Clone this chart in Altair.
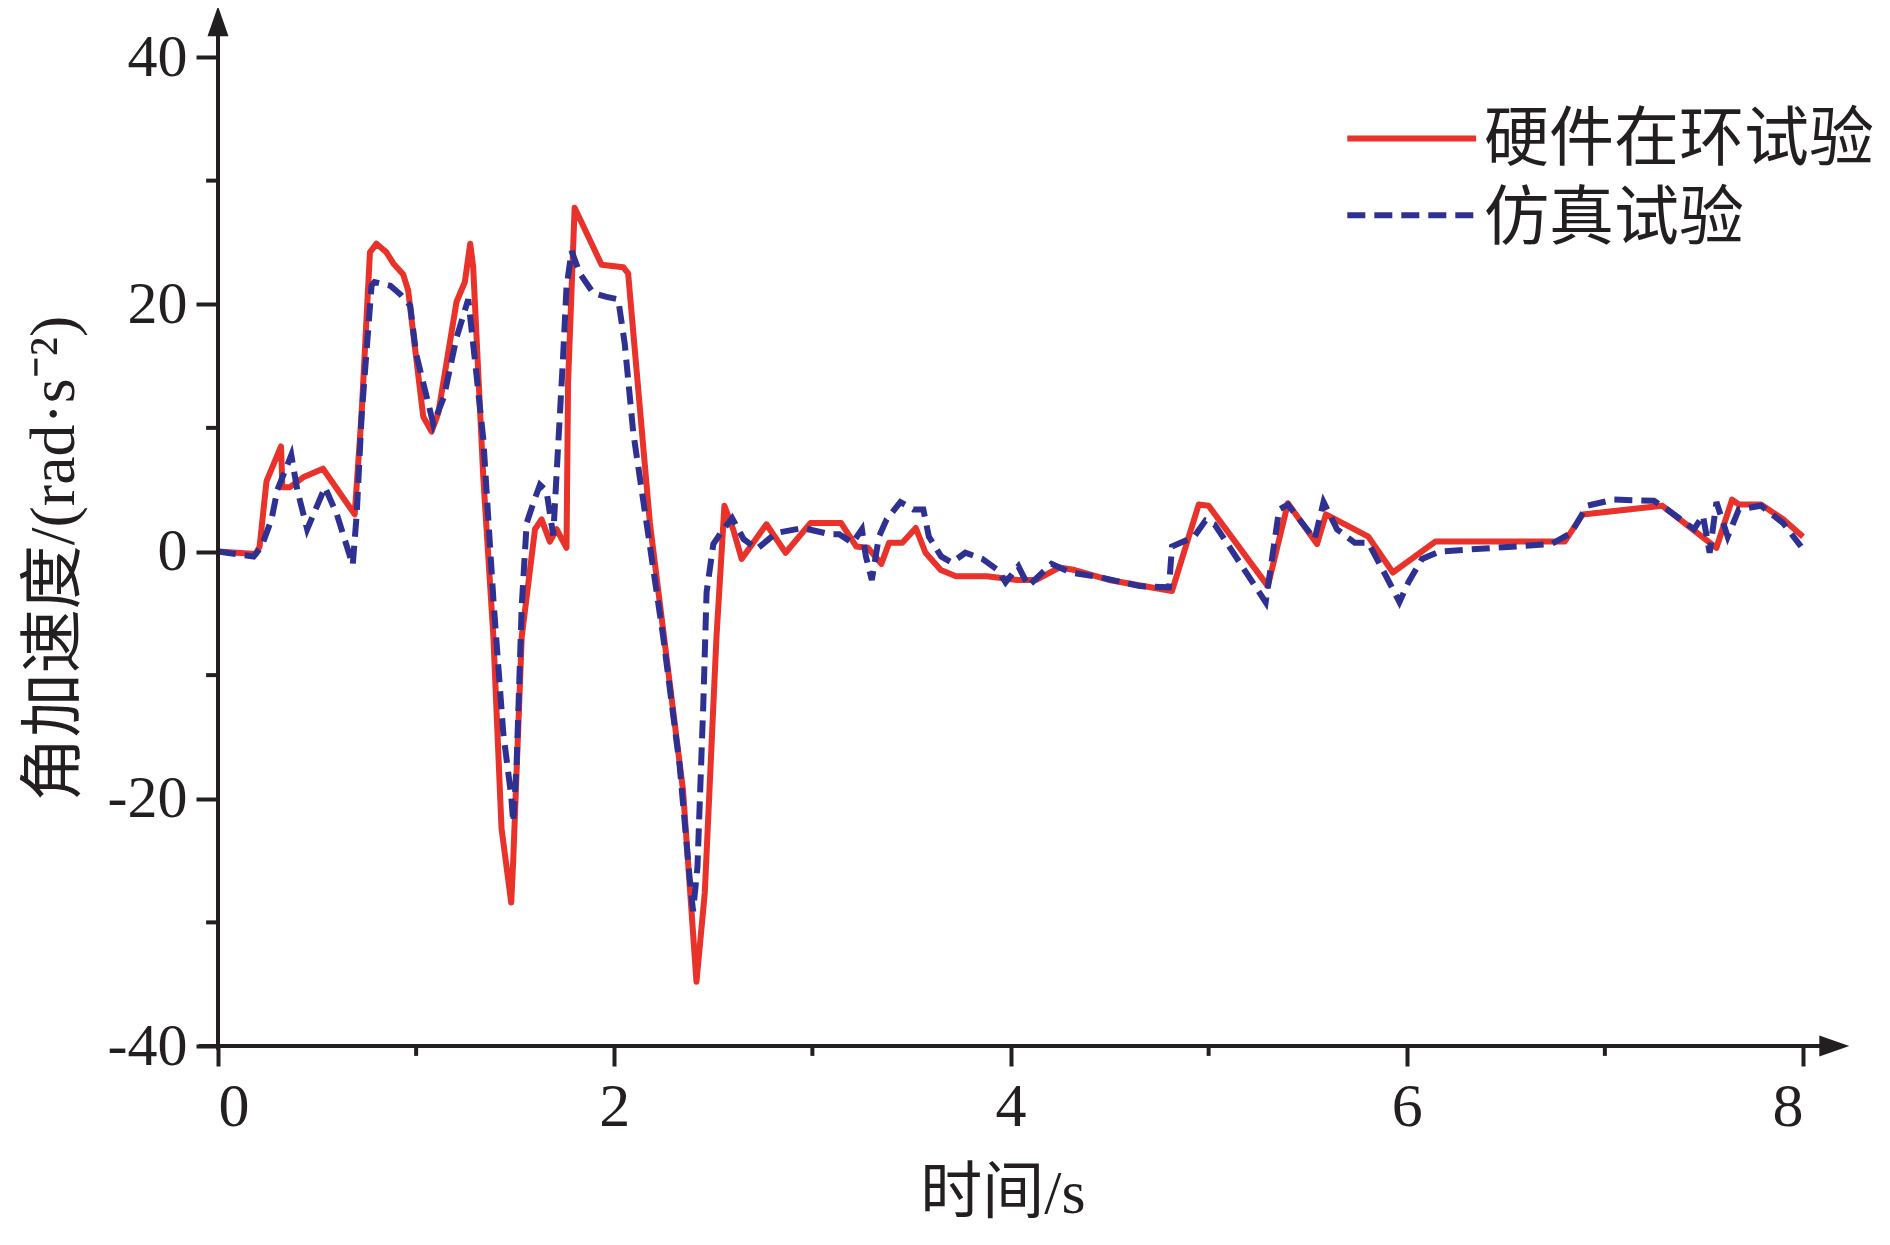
import altair as alt
import pandas as pd

# ---------------- data ----------------
series_names = ["硬件在环试验", "仿真试验"]
series_colors = ["#E8322A", "#2E3192"]

red_t = [0.00, 0.19, 0.21, 0.245, 0.318, 0.325, 0.363, 0.43, 0.53, 0.69,
         0.725, 0.767, 0.80, 0.85, 0.885, 0.935, 0.96, 0.985, 1.036, 1.078,
         1.112, 1.204, 1.246, 1.273, 1.288, 1.339, 1.39, 1.431, 1.48, 1.49,
         1.533, 1.60, 1.633, 1.675, 1.709, 1.759, 1.767, 1.80, 1.936, 2.045,
         2.07, 2.18, 2.347, 2.415, 2.457, 2.516, 2.556, 2.60, 2.643, 2.768,
         2.865, 2.99, 3.145, 3.222, 3.28, 3.348, 3.387, 3.454, 3.522, 3.571,
         3.648, 3.725, 3.88, 4.034, 4.13, 4.246, 4.324, 4.497, 4.815, 4.95,
         5.0, 5.299, 5.40, 5.547, 5.592, 5.806, 5.93, 6.144, 6.797, 6.888,
         7.29, 7.563, 7.642, 7.676, 7.788, 7.90, 8.00]
red_v = [0.0, -0.2, 0.4, 5.7, 8.5, 5.2, 5.2, 6.0, 6.7, 3.0,
         11.2, 24.2, 24.9, 24.2, 23.3, 22.4, 21.1, 17.7, 10.9, 9.7,
         11.2, 20.2, 21.8, 24.9, 23.0, 6.0, -6.9, -22.4, -28.4, -25.0,
         -6.9, 1.8, 2.6, 0.8, 1.8, 0.3, 13.7, 27.8, 23.2, 23.0,
         22.5, 2.3, -19.3, -34.8, -27.6, -6.9, 3.7, 1.8, -0.6, 2.2,
         -0.1, 2.3, 2.3, 0.4, 0.3, -1.0, 0.7, 0.7, 1.9, -0.1,
         -1.5, -2.0, -2.0, -2.3, -2.3, -1.3, -1.5, -2.3, -3.2, 3.8,
         3.7, -2.8, 3.9, 0.6, 3.0, 1.2, -1.7, 0.8, 0.8, 3.0,
         3.7, 0.3, 4.2, 3.8, 3.8, 2.6, 1.2]

blue_t = [0.00, 0.18, 0.22, 0.27, 0.30, 0.37, 0.40, 0.45, 0.54, 0.60,
          0.68, 0.70, 0.725, 0.775, 0.79, 0.87, 0.92, 0.97, 1.00, 1.087,
          1.14, 1.204, 1.263, 1.30, 1.339, 1.39, 1.44, 1.48, 1.49, 1.507,
          1.533, 1.558, 1.591, 1.625, 1.658, 1.692, 1.717, 1.742, 1.759, 1.785,
          1.826, 1.894, 1.961, 2.02, 2.053, 2.096, 2.163, 2.247, 2.33, 2.381,
          2.398, 2.42, 2.45, 2.466, 2.50, 2.542, 2.595, 2.653, 2.72, 2.817,
          2.952, 3.087, 3.135, 3.203, 3.25, 3.27, 3.30, 3.336, 3.375, 3.444,
          3.51, 3.56, 3.588, 3.65, 3.704, 3.772, 3.858, 3.936, 3.975, 4.04,
          4.09, 4.207, 4.303, 4.458, 4.652, 4.80, 4.815, 4.927, 4.984, 5.03,
          5.288, 5.356, 5.40, 5.535, 5.58, 5.648, 5.738, 5.806, 5.896, 5.963,
          6.008, 6.077, 6.166, 6.73, 6.83, 6.91, 7.045, 7.248, 7.315, 7.45,
          7.495, 7.529, 7.563, 7.62, 7.676, 7.788, 7.90, 7.99]
blue_v = [0.0, -0.4, 0.4, 2.6, 5.0, 7.8, 5.0, 1.8, 5.2, 3.0,
          -1.1, 3.0, 11.0, 21.5, 21.8, 21.5, 20.8, 19.9, 16.0, 10.3,
          12.5, 17.3, 20.4, 15.0, 9.1, -3.9, -14.7, -19.8, -21.9, -17.3,
          -4.4, 2.3, 3.9, 5.4, 4.9, 1.3, 8.6, 15.8, 21.4, 24.3,
          22.5, 20.9, 20.6, 20.4, 16.8, 9.6, 2.3, -6.9, -17.3, -26.5,
          -29.1, -25.5, -12.1, -3.3, 0.6, 1.6, 2.7, 1.0, 0.2, 1.5,
          1.9, 1.4, 1.4, 0.7, 1.8, -0.4, -2.3, 1.2, 2.6, 4.0,
          3.4, 3.4, 1.2, -0.4, -0.9, -0.1, -0.6, -1.5, -2.5, -1.2,
          -2.8, -1.0, -1.7, -2.1, -2.8, -2.9, 0.4, 1.2, 2.5, 2.2,
          -4.1, 3.4, 3.8, 1.0, 4.0, 1.8, 0.7, 0.7, -2.0, -4.1,
          -2.5, -0.6, 0.0, 0.6, 1.5, 3.7, 4.2, 4.1, 3.4, 1.8,
          2.9, -0.1, 4.0, 1.2, 3.4, 3.7, 2.3, 0.4]

x_ticks = [0, 2, 4, 6, 8]
y_ticks = [-40, -20, 0, 20, 40]
x_minor = [1, 3, 5, 7]
y_minor = [-30, -10, 10, 30]

x_title = "时间/s"
y_title = "角加速度/(rad·s⁻²)"

# ---------------- styling ----------------
W, H = 1585, 989
INK = "#231F20"
LATIN = "Liberation Serif"
MIX = "'Liberation Serif', 'Noto Sans CJK SC'"
CJK = "'Noto Sans CJK SC'"

x_scale = alt.Scale(domain=[0, 8], nice=False, zero=False)
y_scale = alt.Scale(domain=[-40, 40], nice=False, zero=False)

x_axis = alt.Axis(values=x_ticks, title=x_title, domain=False, grid=False,
                  tickSize=20, tickWidth=4, tickColor=INK,
                  labelFont=LATIN, labelFontSize=62, labelColor=INK, labelPadding=10,
                  titleFont=MIX, titleFontSize=62, titleFontWeight="normal", titleColor=INK,
                  titleX=W / 2 - 8, titleY=147, titleBaseline="middle", titleAlign="center")
y_axis = alt.Axis(values=y_ticks, title=y_title, domain=False, grid=False,
                  tickSize=22, tickWidth=4, tickColor=INK,
                  labelFont=LATIN, labelFontSize=60, labelColor=INK, labelPadding=9,
                  labelExpr="datum.value < 0 ? '-' + format(-datum.value, 'd') : format(datum.value, 'd')",
                  titleFont=MIX, titleFontSize=64, titleFontWeight="normal", titleColor=INK,
                  titleX=-164, titleY=501, titleAngle=270, titleBaseline="middle", titleAlign="center")


def X(field):
    return alt.X(field, type="quantitative", scale=x_scale, axis=x_axis)


def Y(field):
    return alt.Y(field, type="quantitative", scale=y_scale, axis=y_axis)


red_df = pd.DataFrame({"t": red_t, "v": red_v})
blue_df = pd.DataFrame({"t": blue_t, "v": blue_v})

red_line = alt.Chart(red_df).mark_line(color=series_colors[0], strokeWidth=6,
                                       strokeJoin="round").encode(x=X("t"), y=Y("v"))
blue_line = alt.Chart(blue_df).mark_line(color=series_colors[1], strokeWidth=6,
                                         strokeDash=[18, 9], strokeCap="butt").encode(x=X("t"), y=Y("v"))

# axis lines with arrows
yline = alt.Chart(pd.DataFrame({"t": [0], "v": [-40.3], "v2": [42.3]})).mark_rule(
    color=INK, strokeWidth=4).encode(x=X("t"), y=Y("v"), y2="v2")
xline = alt.Chart(pd.DataFrame({"t": [-0.096], "t2": [8.16], "v": [-40]})).mark_rule(
    color=INK, strokeWidth=4).encode(x=X("t"), x2="t2", y=Y("v"))
yarrow = alt.Chart(pd.DataFrame({"t": [0], "v": [42.9]})).mark_point(
    shape="M0,-1L-0.7,1L0.7,1Z", size=900, filled=True, color=INK, opacity=1,
    strokeWidth=0).encode(x=X("t"), y=Y("v"))
xarrow = alt.Chart(pd.DataFrame({"t": [8.158], "v": [-40]})).mark_point(
    shape="M1,0L-1,-0.7L-1,0.7Z", size=900, filled=True, color=INK, opacity=1,
    strokeWidth=0).encode(x=X("t"), y=Y("v"))

# minor ticks
yminor = alt.Chart(pd.DataFrame({"v": y_minor, "t": [-0.06] * 4, "t2": [0] * 4})).mark_rule(
    color=INK, strokeWidth=4).encode(x=X("t"), x2="t2", y=Y("v"))
xminor = alt.Chart(pd.DataFrame({"t": x_minor, "v": [-40] * 4, "v2": [-40.8] * 4})).mark_rule(
    color=INK, strokeWidth=4).encode(x=X("t"), y=Y("v"), y2="v2")

# legend (drawn manually)
leg_df = pd.DataFrame({"name": series_names, "x1": [5.70, 5.70], "x2": [6.35, 6.35],
                       "v": [33.4, 27.2], "tx": [6.39, 6.39], "tv": [33.3, 26.9]})
leg_red = alt.Chart(leg_df.iloc[[0]]).mark_rule(color=series_colors[0], strokeWidth=6).encode(
    x=X("x1"), x2="x2", y=Y("v"))
leg_blue = alt.Chart(leg_df.iloc[[1]]).mark_rule(color=series_colors[1], strokeWidth=6,
                                                  strokeDash=[18, 9]).encode(x=X("x1"), x2="x2", y=Y("v"))
leg_text = alt.Chart(leg_df).mark_text(align="left", baseline="middle", font=CJK, fontSize=65,
                                       color=INK).encode(x=X("tx"), y=Y("tv"), text="name:N")

chart = alt.layer(
    red_line, blue_line, yline, xline, yarrow, xarrow, yminor, xminor,
    leg_red, leg_blue, leg_text
).properties(
    width=W, height=H,
    padding={"left": 210, "top": 49, "right": 79, "bottom": 190},
    autosize=alt.AutoSizeParams(type="none"),
    background="white",
).configure_view(stroke=None)

chart.save("out.html", embed_options={"renderer": "svg", "actions": False})
